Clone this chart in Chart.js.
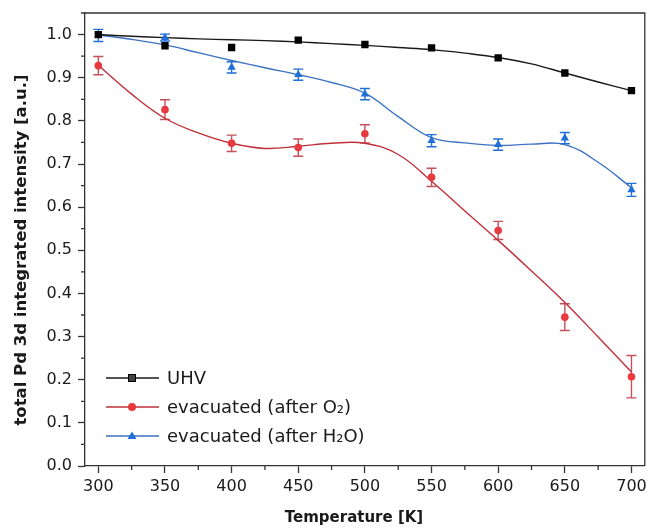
<!DOCTYPE html>
<html>
<head>
<meta charset="utf-8">
<title>Pd 3d intensity vs temperature</title>
<script src="https://cdn.jsdelivr.net/npm/chart.js@4.4.1/dist/chart.umd.min.js"></script>
<style>
    html, body { margin: 0; padding: 0; background: #fff; }
</style>
</head>
<body>
<canvas id="chart" width="650" height="528"></canvas>
<script>
// measured points
const temps = [300, 350, 400, 450, 500, 550, 600, 650, 700];
const uhv = [1.000, 0.974, 0.970, 0.987, 0.977, 0.969, 0.946, 0.911, 0.870];
const afterO2 = [0.928, 0.826, 0.748, 0.738, 0.770, 0.669, 0.546, 0.345, 0.207];
const afterO2Err = [0.021, 0.023, 0.019, 0.020, 0.021, 0.021, 0.021, 0.031, 0.049];
const afterH2O = [0.998, 0.993, 0.924, 0.907, 0.862, 0.754, 0.745, 0.760, 0.640];
const afterH2OErr = [0.014, 0.008, 0.013, 0.013, 0.013, 0.014, 0.013, 0.013, 0.015];

// smoothed fit curves, sampled every 25 K
const fitTemps = [300, 325, 350, 375, 400, 425, 450, 475, 500, 525, 550, 575, 600, 625, 650, 675, 700];
const uhvFit = [1.000, 0.996, 0.993, 0.990, 0.988, 0.986, 0.983, 0.979, 0.975, 0.970, 0.965, 0.957, 0.947, 0.932, 0.911, 0.890, 0.870];
const afterO2Fit = [0.929, 0.862, 0.806, 0.772, 0.748, 0.736, 0.741, 0.748, 0.748, 0.722, 0.660, 0.591, 0.523, 0.452, 0.379, 0.299, 0.218];
const afterH2OFit = [0.999, 0.989, 0.976, 0.958, 0.940, 0.923, 0.907, 0.889, 0.864, 0.810, 0.761, 0.749, 0.743, 0.746, 0.745, 0.704, 0.645];

const legendLabels = ['UHV', 'evacuated (after O\u2082)', 'evacuated (after H\u2082O)'];

const axisColor = '#333333';
const textColor = '#1a1a1a';
const fontFamily = "'DejaVu Sans', 'Liberation Sans', sans-serif";

const black = {marker: '#000000', line: '#1a1a1a', error: '#000000'};
const red = {marker: '#e8393f', line: '#c0303a', error: '#c4505a'};
const blue = {marker: '#1f6fd6', line: '#3d72c2', error: '#1f6fd6'};

const toPoints = (xs, ys) => xs.map((x, i) => ({x: x, y: ys[i]}));

function markerSet(label, values, errors, colors, style, radius) {
    return {
        label: label,
        data: toPoints(temps, values),
        errors: errors,
        errorColor: colors.error,
        showLine: false,
        pointStyle: style,
        pointRadius: radius,
        pointBackgroundColor: colors.marker,
        pointBorderColor: colors.marker,
        pointBorderWidth: 0
    };
}

function fitSet(values, colors) {
    return {
        data: toPoints(fitTemps, values),
        showLine: true,
        tension: 0.4,
        borderColor: colors.line,
        borderWidth: 1.4,
        pointRadius: 0,
        fill: false
    };
}

// vertical error bars with caps
const errorBars = {
    id: 'errorBars',
    beforeDatasetsDraw(chart) {
        const ctx = chart.ctx;
        const x = chart.scales.x;
        const y = chart.scales.y;
        chart.data.datasets.forEach(ds => {
            if (!ds.errors) return;
            ctx.save();
            ctx.strokeStyle = ds.errorColor;
            ctx.lineWidth = 1.4;
            ds.data.forEach((p, i) => {
                const px = x.getPixelForValue(p.x);
                const top = y.getPixelForValue(p.y + ds.errors[i]);
                const bottom = y.getPixelForValue(p.y - ds.errors[i]);
                ctx.beginPath();
                ctx.moveTo(px, top);
                ctx.lineTo(px, bottom);
                ctx.moveTo(px - 5, top);
                ctx.lineTo(px + 5, top);
                ctx.moveTo(px - 5, bottom);
                ctx.lineTo(px + 5, bottom);
                ctx.stroke();
            });
            ctx.restore();
        });
    }
};

// top/right frame, minor ticks, axis titles and legend
const decorations = {
    id: 'decorations',
    afterDraw(chart) {
        const ctx = chart.ctx;
        const area = chart.chartArea;
        const x = chart.scales.x;
        const y = chart.scales.y;

        ctx.save();
        ctx.strokeStyle = axisColor;
        ctx.lineWidth = 1.3;
        ctx.beginPath();
        ctx.moveTo(area.left, area.top);
        ctx.lineTo(area.right, area.top);
        ctx.lineTo(area.right, area.bottom);
        for (let t = 325; t < 710; t += 50) {
            const px = x.getPixelForValue(t);
            ctx.moveTo(px, area.bottom);
            ctx.lineTo(px, area.bottom + 4);
        }
        for (let v = 0.05; v < 1.05; v += 0.1) {
            const py = y.getPixelForValue(v);
            ctx.moveTo(area.left, py);
            ctx.lineTo(area.left - 4, py);
        }
        ctx.stroke();

        // axis titles
        ctx.fillStyle = textColor;
        ctx.textAlign = 'center';
        ctx.textBaseline = 'middle';
        ctx.font = 'bold 15px ' + fontFamily;
        ctx.fillText('Temperature [K]', 354, 518);
        ctx.save();
        ctx.translate(22, 250);
        ctx.rotate(-Math.PI / 2);
        ctx.font = 'bold 16.5px ' + fontFamily;
        ctx.fillText('total Pd 3d integrated intensity [a.u.]', 0, 0);
        ctx.restore();

        // legend
        const rows = [378, 407, 436];
        const styles = [
            {c: black, shape: 'rect'},
            {c: red, shape: 'circle'},
            {c: blue, shape: 'triangle'}
        ];
        ctx.font = '18px ' + fontFamily;
        ctx.textAlign = 'left';
        rows.forEach((ry, i) => {
            const s = styles[i];
            ctx.strokeStyle = s.c.line;
            ctx.lineWidth = 1.4;
            ctx.beginPath();
            ctx.moveTo(106, ry);
            ctx.lineTo(159, ry);
            ctx.stroke();
            if (s.shape === 'rect') {
                ctx.fillStyle = '#444';
                ctx.fillRect(128.5, ry - 3.5, 7, 7);
                ctx.strokeStyle = '#000';
                ctx.lineWidth = 1;
                ctx.strokeRect(128.5, ry - 3.5, 7, 7);
            } else if (s.shape === 'circle') {
                ctx.fillStyle = s.c.marker;
                ctx.beginPath();
                ctx.arc(132, ry, 4, 0, Math.PI * 2);
                ctx.fill();
            } else {
                ctx.fillStyle = s.c.marker;
                ctx.beginPath();
                ctx.moveTo(132, ry - 4.5);
                ctx.lineTo(136.5, ry + 3);
                ctx.lineTo(127.5, ry + 3);
                ctx.closePath();
                ctx.fill();
            }
            ctx.fillStyle = textColor;
            ctx.fillText(legendLabels[i], 167, ry + 1);
        });
        ctx.restore();
    }
};

const ctx = document.getElementById('chart').getContext('2d');

new Chart(ctx, {
    type: 'scatter',
    data: {
        datasets: [
            markerSet(legendLabels[0], uhv, null, black, 'rect', 5.2),
            markerSet(legendLabels[1], afterO2, afterO2Err, red, 'circle', 3.8),
            markerSet(legendLabels[2], afterH2O, afterH2OErr, blue, 'triangle', 4.8),
            fitSet(uhvFit, black),
            fitSet(afterO2Fit, red),
            fitSet(afterH2OFit, blue)
        ]
    },
    options: {
        responsive: false,
        animation: false,
        devicePixelRatio: 1,
        layout: {
            padding: {top: 13, right: 3, left: 0, bottom: 0}
        },
        plugins: {
            legend: {display: false},
            tooltip: {enabled: false}
        },
        scales: {
            x: {
                type: 'linear',
                min: 290,
                max: 710,
                afterFit: scale => {
                    scale.height = 62;
                    // let the last label run to the canvas edge
                    scale.paddingLeft = 0;
                    scale.paddingRight = 0;
                },
                border: {color: axisColor, width: 1.3},
                grid: {
                    drawOnChartArea: false,
                    drawTicks: true,
                    tickLength: 7,
                    tickColor: axisColor,
                    tickWidth: 1.3
                },
                ticks: {
                    stepSize: 50,
                    includeBounds: false,
                    padding: 4,
                    color: textColor,
                    font: {family: fontFamily, size: 16},
                    maxRotation: 0
                }
            },
            y: {
                type: 'linear',
                min: 0,
                max: 1.05,
                afterFit: scale => {
                    scale.width = 85;
                    scale.paddingTop = 0;
                    scale.paddingBottom = 0;
                },
                border: {color: axisColor, width: 1.3},
                grid: {
                    drawOnChartArea: false,
                    drawTicks: true,
                    tickLength: 7,
                    tickColor: axisColor,
                    tickWidth: 1.3
                },
                ticks: {
                    stepSize: 0.1,
                    includeBounds: false,
                    padding: 6,
                    color: textColor,
                    font: {family: fontFamily, size: 16},
                    callback: v => v.toFixed(1)
                }
            }
        }
    },
    plugins: [errorBars, decorations]
});
</script>
</body>
</html>
